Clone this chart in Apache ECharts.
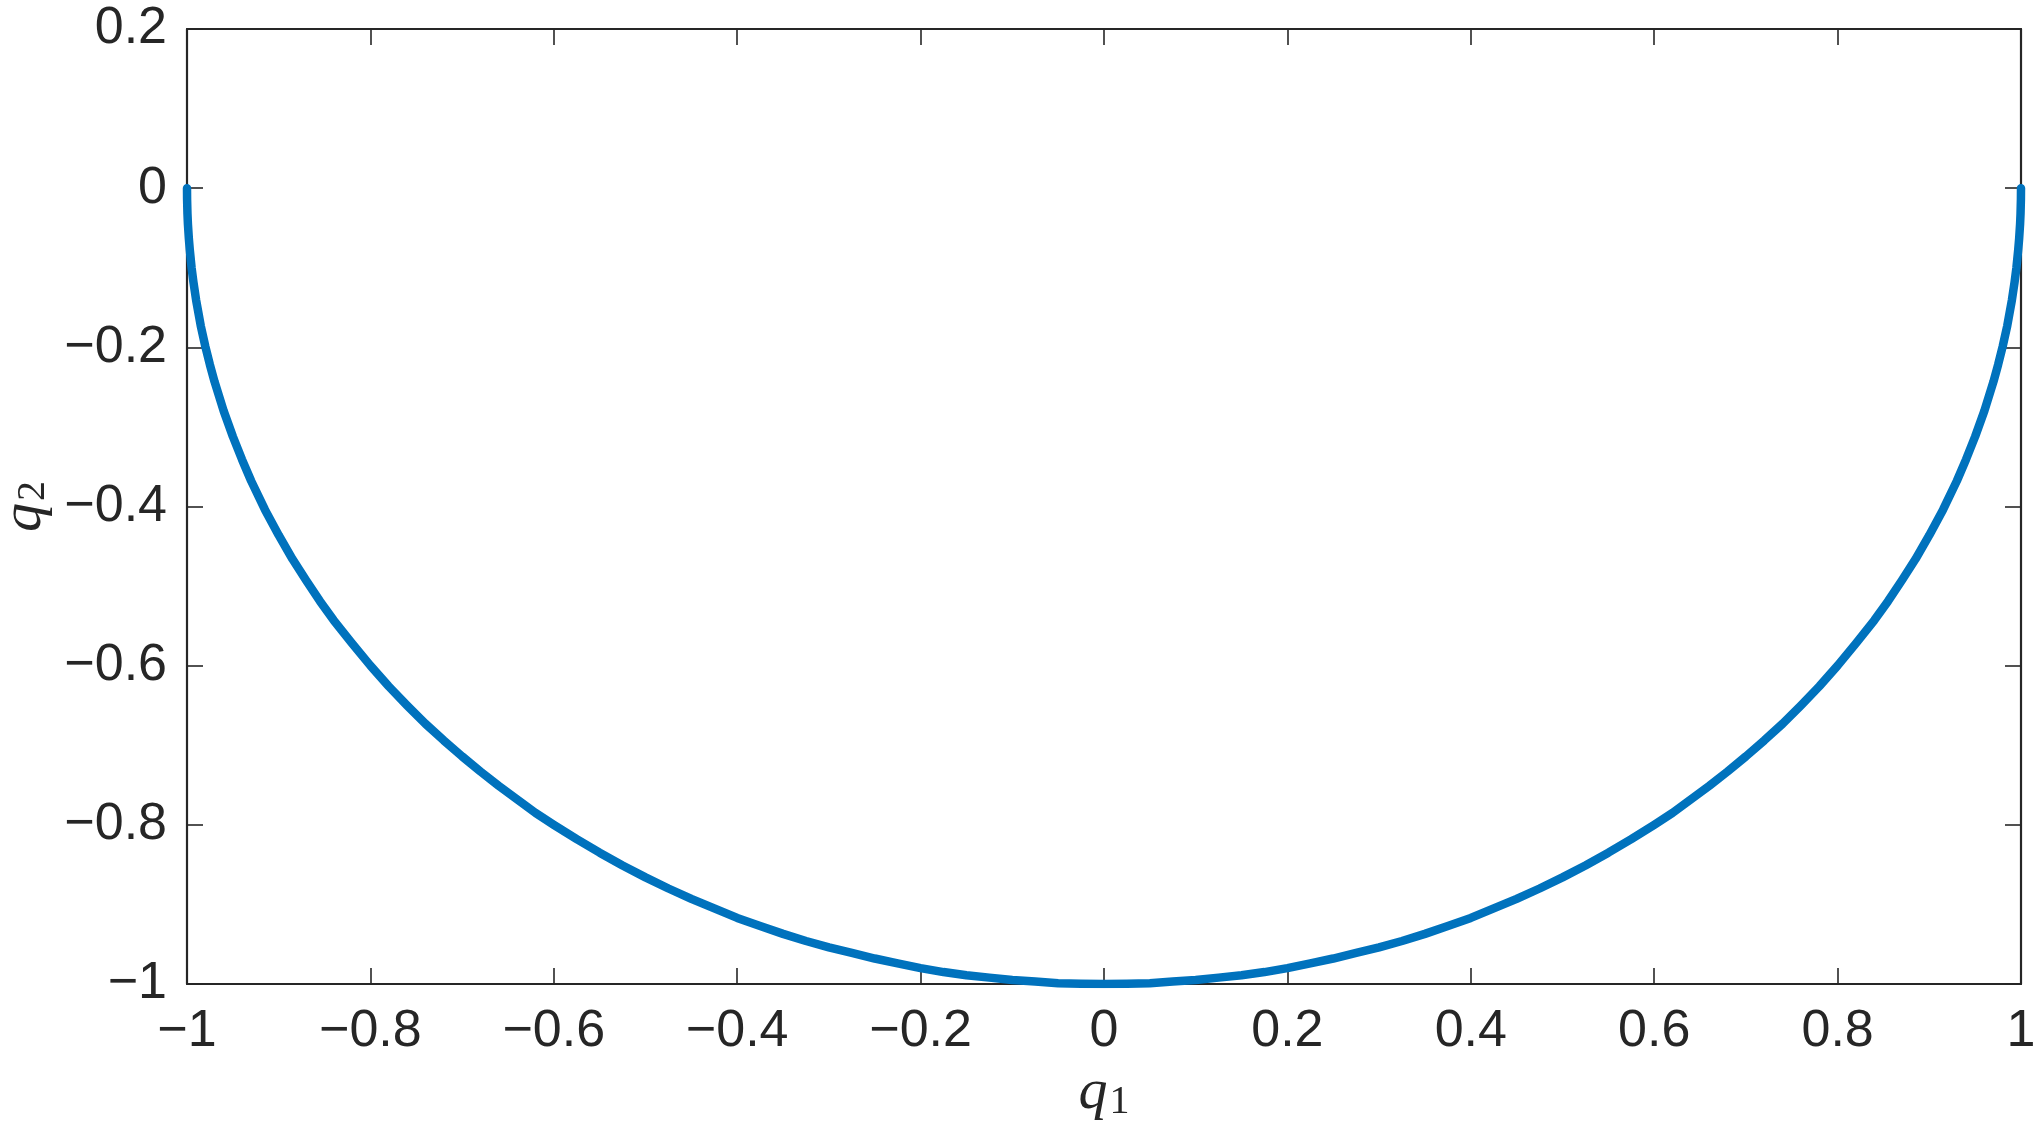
<!DOCTYPE html>
<html><head><meta charset="utf-8">
<script src="https://cdn.jsdelivr.net/npm/echarts@6/dist/echarts.min.js"></script>
<style>html,body{margin:0;padding:0;background:#fff}#c{width:2043px;height:1131px}</style>
</head><body><div id="c"></div>
<script>
// q1 / q2 sample points
const q1 = [-1, -0.9999, -0.9995, -0.999, -0.998, -0.997, -0.995, -0.993, -0.99, -0.985, -0.98, -0.975, -0.97, -0.96, -0.95, -0.94, -0.93, -0.915, -0.9, -0.885, -0.87, -0.855, -0.84, -0.82, -0.8, -0.78, -0.76, -0.74, -0.72, -0.7, -0.68, -0.66, -0.64, -0.62, -0.6, -0.575, -0.55, -0.525, -0.5, -0.475, -0.45, -0.425, -0.4, -0.375, -0.35, -0.325, -0.3, -0.275, -0.25, -0.225, -0.2, -0.175, -0.15, -0.125, -0.1, -0.075, -0.05, -0.025, 0,
  0.025, 0.05, 0.075, 0.1, 0.125, 0.15, 0.175, 0.2, 0.225, 0.25, 0.275, 0.3, 0.325, 0.35, 0.375, 0.4, 0.425, 0.45, 0.475, 0.5, 0.525, 0.55, 0.575, 0.6, 0.62, 0.64, 0.66, 0.68, 0.7, 0.72, 0.74, 0.76, 0.78, 0.8, 0.82, 0.84, 0.855, 0.87, 0.885, 0.9, 0.915, 0.93, 0.94, 0.95, 0.96, 0.97, 0.975, 0.98, 0.985, 0.99, 0.993, 0.995, 0.997, 0.998, 0.999, 0.9995, 0.9999, 1];
const q2 = [0, -0.014, -0.032, -0.045, -0.063, -0.077, -0.1, -0.118, -0.141, -0.173, -0.199, -0.222, -0.243, -0.28, -0.312, -0.341, -0.368, -0.404, -0.436, -0.466, -0.493, -0.519, -0.543, -0.572, -0.6, -0.626, -0.65, -0.673, -0.694, -0.714, -0.733, -0.751, -0.768, -0.785, -0.8, -0.818, -0.835, -0.851, -0.866, -0.88, -0.893, -0.905, -0.917, -0.927, -0.937, -0.946, -0.954, -0.961, -0.968, -0.974, -0.98, -0.985, -0.989, -0.992, -0.995, -0.997, -0.999, -0.9997, -1,
  -0.9997, -0.999, -0.997, -0.995, -0.992, -0.989, -0.985, -0.98, -0.974, -0.968, -0.961, -0.954, -0.946, -0.937, -0.927, -0.917, -0.905, -0.893, -0.88, -0.866, -0.851, -0.835, -0.818, -0.8, -0.785, -0.768, -0.751, -0.733, -0.714, -0.694, -0.673, -0.65, -0.626, -0.6, -0.572, -0.543, -0.519, -0.493, -0.466, -0.436, -0.404, -0.368, -0.341, -0.312, -0.28, -0.243, -0.222, -0.199, -0.173, -0.141, -0.118, -0.1, -0.077, -0.063, -0.045, -0.032, -0.014, 0];
const xRange = [-1, 1];
const yRange = [-1, 0.2];
const tickStep = 0.2;

const pts = q1.map((v, i) => [v, q2[i]]);
const AX = '#262626';
const fmt = v => { const s = String(+(+v).toFixed(1)); return s.replace('-', '\u2212'); };
const lab = { fontFamily: 'Liberation Sans', fontSize: 52, color: AX, formatter: fmt };
const common = {
  type: 'value', interval: tickStep, splitLine: { show: false },
  axisLine: { show: true, onZero: false, lineStyle: { color: AX, width: 2.2 } },
  axisTick: { show: true, inside: true, length: 16, lineStyle: { color: AX, width: 1.6 } }
};
const nameRich = {
  i: { fontFamily: 'Liberation Serif', fontStyle: 'italic', fontSize: 58, color: AX },
  s: { fontFamily: 'Liberation Serif', fontSize: 40, color: AX, verticalAlign: 'bottom', padding: [0, 0, 0, 2] }
};
const chart = echarts.init(document.getElementById('c'), null, { renderer: 'canvas' });
chart.setOption({
  backgroundColor: '#fff',
  animation: false,
  grid: { left: 187, right: 22, top: 29, bottom: 147, containLabel: false, outerBoundsMode: 'none' },
  xAxis: [
    Object.assign({}, common, { min: xRange[0], max: xRange[1], position: 'bottom',
      axisLabel: Object.assign({ margin: 22 }, lab),
      name: '{i|q}{s|1}', nameLocation: 'middle', nameGap: 80,
      nameTextStyle: { rich: nameRich } }),
    Object.assign({}, common, { min: xRange[0], max: xRange[1], position: 'top', axisLabel: { show: false } })
  ],
  yAxis: [
    Object.assign({}, common, { min: yRange[0], max: yRange[1], position: 'left',
      axisLabel: Object.assign({ margin: 20 }, lab),
      name: '{i|q}{s|2}', nameLocation: 'middle', nameGap: 126,
      nameTextStyle: { rich: nameRich } }),
    Object.assign({}, common, { min: yRange[0], max: yRange[1], position: 'right', axisLabel: { show: false } })
  ],
  series: [{
    type: 'line', xAxisIndex: 0, yAxisIndex: 0, data: pts, showSymbol: false, smooth: false,
    lineStyle: { color: '#0072BD', width: 8.5, cap: 'round', join: 'round' }, z: 1
  }]
});
</script></body></html>
